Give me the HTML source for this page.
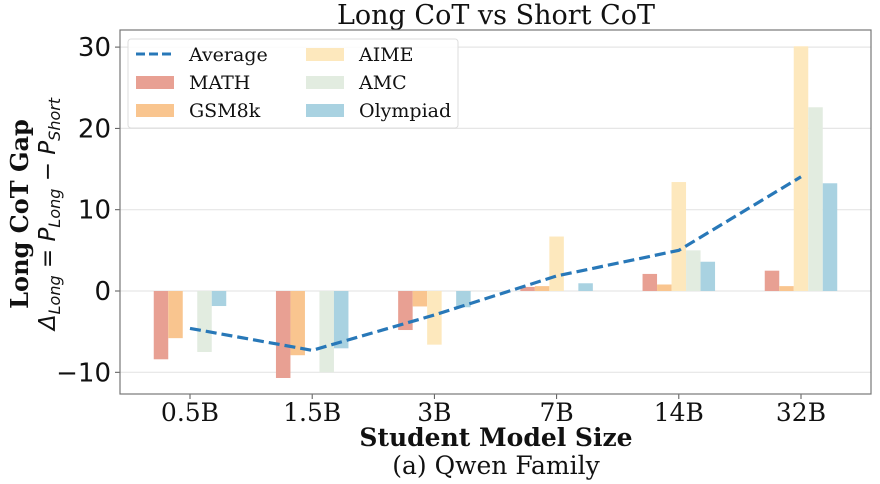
<!DOCTYPE html>
<html><head><meta charset="utf-8"><style>
body{margin:0;background:#fff;}
svg{display:block;}
</style></head><body>
<svg id="chart" width="880" height="484" viewBox="0 0 880 484" xmlns="http://www.w3.org/2000/svg">
<text x="496" y="24" text-anchor="middle" font-family="DejaVu Serif, Liberation Serif, serif" font-size="27" fill="#111">Long CoT vs Short CoT</text>
<g id="grid"></g>
<g id="bars"></g>
<g id="line"></g>
<g id="axes"></g>
<g transform="translate(28,214) rotate(-90)">
<text x="0" y="0" text-anchor="middle" font-family="DejaVu Serif, Liberation Serif, serif" font-weight="bold" font-size="24" fill="#111">Long CoT Gap</text>
<text x="0" y="27" text-anchor="middle" font-family="DejaVu Sans, Liberation Sans, sans-serif" font-size="23" fill="#111"><tspan font-style="italic">Δ</tspan><tspan font-size="16" dy="5" font-style="italic">Long</tspan><tspan dy="-5"> = </tspan><tspan font-style="italic">P</tspan><tspan font-size="16" dy="5" font-style="italic">Long</tspan><tspan dy="-5"> − </tspan><tspan font-style="italic">P</tspan><tspan font-size="16" dy="5" font-style="italic">Short</tspan></text>
</g>
<text x="496" y="446" text-anchor="middle" font-family="DejaVu Serif, Liberation Serif, serif" font-weight="bold" font-size="25" fill="#111">Student Model Size</text>
<text x="496" y="474" text-anchor="middle" font-family="DejaVu Serif, Liberation Serif, serif" font-size="25" fill="#111">(a) Qwen Family</text>
<g>
<rect x="128" y="39" width="330" height="89" rx="3" fill="#fff" fill-opacity="0.85" stroke="#ddd"/>
<g font-family="DejaVu Serif, Liberation Serif, serif" font-size="19" fill="#111">
<g><line x1="136" y1="54" x2="174" y2="54" stroke="#2878b8" stroke-width="3" stroke-dasharray="9,4"/><text x="189" y="61">Average</text></g>
<g><rect x="136" y="76" width="38" height="13" fill="#e8a093"/><text x="189" y="89">MATH</text></g>
<g><rect x="136" y="104" width="38" height="13" fill="#f9c58f"/><text x="189" y="117">GSM8k</text></g>
<g><rect x="306" y="48" width="38" height="13" fill="#fde8bd"/><text x="359" y="61">AIME</text></g>
<g><rect x="306" y="76" width="38" height="13" fill="#e2ece0"/><text x="359" y="89">AMC</text></g>
<g><rect x="306" y="104" width="38" height="13" fill="#a9d2e1"/><text x="359" y="117">Olympiad</text></g>
</g></g>
</svg>
<script>
const categories = ["0.5B","1.5B","3B","7B","14B","32B"];
const seriesNames = ["MATH","GSM8k","AIME","AMC","Olympiad"];
const mathVals = [-8.4,-10.7,-4.8,0.5,2.1,2.5];
const gsm8kVals = [-5.8,-7.9,-1.9,0.6,0.8,0.6];
const aimeVals = [0,0,-6.6,6.7,13.4,30.1];
const amcVals = [-7.5,-10,0,0,5.0,22.6];
const olympiadVals = [-1.85,-7.05,-2.0,0.95,3.6,13.25];
const averageVals = [-4.6,-7.3,-2.95,1.85,5.0,14.05];
const yTicks = [-10,0,10,20,30];

const NS="http://www.w3.org/2000/svg";
const colors=["#e8a093","#f9c58f","#fde8bd","#e2ece0","#a9d2e1"];
const L=120,R=871,T=30,B=394;
const x0=190, step=122.2, bw=14.5;
function xScale(i){return x0+i*step;}
function yScale(v){return 291-v*8.13;}
function mk(tag,attrs,parent){const e=document.createElementNS(NS,tag);for(const k in attrs)e.setAttribute(k,attrs[k]);parent.appendChild(e);return e;}
const grid=document.getElementById('grid'),bars=document.getElementById('bars'),line=document.getElementById('line'),axes=document.getElementById('axes');
yTicks.forEach(t=>{
  const y=yScale(t);
  const g=mk('line',{x1:L,x2:R,y1:y,y2:y,stroke:'#e6e6e6','stroke-width':1.2},grid);
  
  
  const tk=mk('line',{x1:L-5,x2:L,y1:y,y2:y,stroke:'#555'},axes);
  
  
  const tx=mk('text',{x:L-9,y:y+9,'text-anchor':'end','font-family':'DejaVu Sans, Liberation Sans, sans-serif','font-size':26,fill:'#111'},axes);
  tx.textContent=t<0?'\u2212'+Math.abs(t):String(t);
  
  
});
const all=[mathVals,gsm8kVals,aimeVals,amcVals,olympiadVals];
categories.forEach((c,i)=>{
  const cx=xScale(i);
  all.forEach((arr,s)=>{
    const v=arr[i];
    const x=cx+(s-2)*bw-bw/2;
    const y0=yScale(0),y1=yScale(v);
    const r=mk('rect',{x:x,y:Math.min(y0,y1),width:bw,height:Math.abs(y1-y0),fill:colors[s]},bars);
    
    
  });
  const tk=mk('line',{x1:cx,x2:cx,y1:B,y2:B+5,stroke:'#555'},axes);
  
  
  const tx=mk('text',{x:cx,y:B+27,'text-anchor':'middle','font-family':'DejaVu Serif, Liberation Serif, serif','font-size':25,fill:'#111'},axes);
  tx.textContent=c;
  
  
});
const pts=averageVals.map((v,i)=>xScale(i)+','+yScale(v)).join(' ');
const pl=mk('polyline',{points:pts,fill:'none',stroke:'#2878b8','stroke-width':3.2,'stroke-dasharray':'11,5'},line);


const fr=mk('rect',{x:L,y:T,width:R-L,height:B-T,fill:'none',stroke:'#777','stroke-width':1.2},axes);


</script>
</body></html>
